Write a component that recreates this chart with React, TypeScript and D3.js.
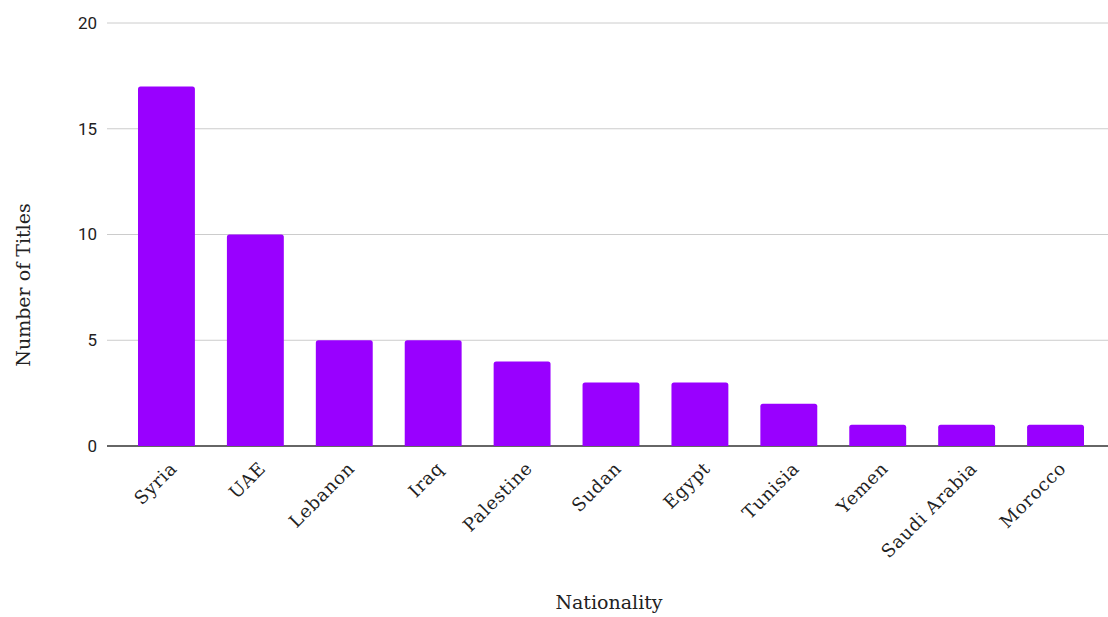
import React from "react";
import * as d3 from "d3";

const categories = ["Syria", "UAE", "Lebanon", "Iraq", "Palestine", "Sudan", "Egypt", "Tunisia", "Yemen", "Saudi Arabia", "Morocco"];
const values = [17, 10, 5, 5, 4, 3, 3, 2, 1, 1, 1];
const yTicks = [0, 5, 10, 15, 20];

const W = 1108;
const H = 617;
const serif = "'DejaVu Serif', serif";
const sans = "Roboto, 'Noto Sans', sans-serif";

export default function App() {
  const x = d3.scaleBand<string>().domain(categories).range([122, 1100]).paddingInner(0.36).paddingOuter(0.18);
  const y = d3.scaleLinear().domain([0, 20]).range([446, 23]);
  const r = 2.5;
  return (
    <svg width={W} height={H} style={{ position: "absolute", left: 0, top: 0, background: "#fff" }}>
      {yTicks.map((t) => (
        <g key={t}>
          <line x1={107} x2={1108} y1={y(t)} y2={y(t)} stroke={t === 0 ? "#333" : "#ccc"} strokeWidth={t === 0 ? 1.3 : 1} />
          <text x={97} y={y(t)} dy="0.35em" textAnchor="end" fontFamily={sans} fontSize={17} fill="#222">{t}</text>
        </g>
      ))}
      {categories.map((c, i) => {
        const x0 = x(c)!;
        const w = x.bandwidth();
        const y0 = y(values[i]);
        const y1 = y(0);
        const d = `M${x0},${y1} L${x0},${y0 + r} Q${x0},${y0} ${x0 + r},${y0} L${x0 + w - r},${y0} Q${x0 + w},${y0} ${x0 + w},${y0 + r} L${x0 + w},${y1} Z`;
        return <path key={c} d={d} fill="#9900ff" />;
      })}
      {categories.map((c) => {
        const cx = x(c)! + x.bandwidth() / 2 + 2;
        return (
          <text key={c} transform={`translate(${cx},${460}) rotate(-45)`} textAnchor="end" dy="0.75em" fontFamily={serif} fontSize={18} letterSpacing={0.7} fill="#222">{c}</text>
        );
      })}
      <text transform={`translate(30,285) rotate(-90)`} textAnchor="middle" fontFamily={serif} fontSize={19} fill="#222">Number of Titles</text>
      <text x={609} y={609} textAnchor="middle" fontFamily={serif} fontSize={19} fill="#222">Nationality</text>
    </svg>
  );
}
